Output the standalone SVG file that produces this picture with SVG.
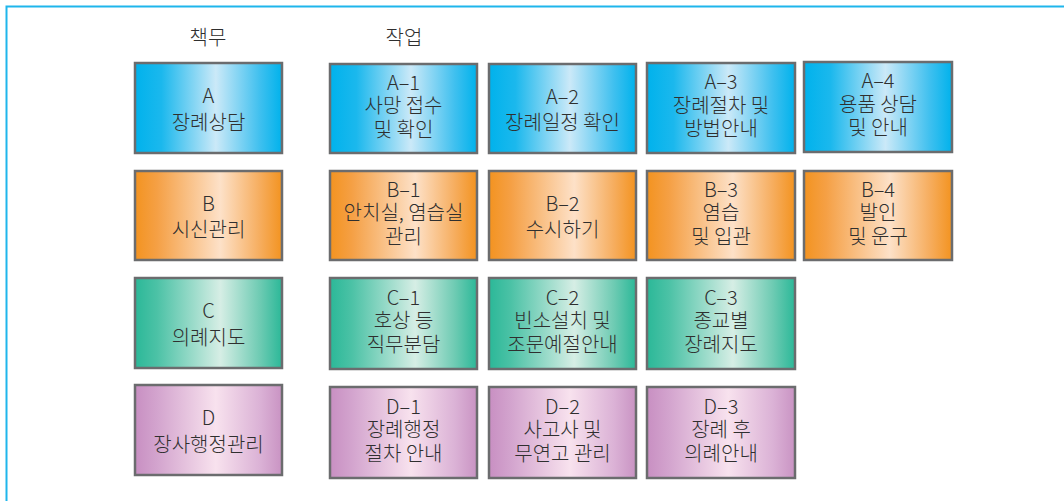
<svg xmlns="http://www.w3.org/2000/svg" width="1064" height="501" viewBox="0 0 1064 501">
<defs>
<linearGradient id="gA" x1="0" y1="0" x2="1" y2="0">
<stop offset="0" stop-color="#00b2ec"/><stop offset="0.18" stop-color="#1bb8ed"/><stop offset="0.55" stop-color="#cbe9f8"/><stop offset="0.85" stop-color="#3fc0ef"/><stop offset="1" stop-color="#00b2ec"/>
</linearGradient>
<linearGradient id="gB" x1="0" y1="0" x2="1" y2="0">
<stop offset="0" stop-color="#f39320"/><stop offset="0.15" stop-color="#f5a045"/><stop offset="0.58" stop-color="#fde1c8"/><stop offset="0.85" stop-color="#f6ad5e"/><stop offset="1" stop-color="#f39320"/>
</linearGradient>
<linearGradient id="gC" x1="0" y1="0" x2="1" y2="0">
<stop offset="0" stop-color="#2bb898"/><stop offset="0.15" stop-color="#4cc2a6"/><stop offset="0.58" stop-color="#d6eee5"/><stop offset="0.85" stop-color="#6ecbb3"/><stop offset="1" stop-color="#2bb898"/>
</linearGradient>
<linearGradient id="gD" x1="0" y1="0" x2="1" y2="0">
<stop offset="0" stop-color="#c88fc2"/><stop offset="0.15" stop-color="#d3a4ce"/><stop offset="0.55" stop-color="#f8e2ee"/><stop offset="0.85" stop-color="#dbb2d6"/><stop offset="1" stop-color="#c993c3"/>
</linearGradient>
</defs>
<style>
.bx{stroke:#6b6c6e;stroke-width:2.5}
.a{fill:url(#gA)}.b{fill:url(#gB)}.c{fill:url(#gC)}.d{fill:url(#gD)}
text{font-family:"Noto Sans CJK KR","Liberation Sans",sans-serif;font-size:20px;fill:#2f2f2f;text-anchor:middle;font-weight:300}
</style>
<rect width="1064" height="501" fill="#fff"/>
<path d="M6.5 501 V6.5 H1064" fill="none" stroke="#1fb6ec" stroke-width="2"/>
<g id="headers">
<text x="208" y="45">책무</text>
<text x="404" y="45">작업</text>
</g>
<g id="A"><rect class="bx a" x="135" y="63" width="147" height="90"/><text x="208.5" y="103">A</text><text x="208.5" y="129.5">장례상담</text></g>
<g id="A1"><rect class="bx a" x="330" y="64" width="147" height="89"/><text x="403.5" y="89.5">A–1</text><text x="403.5" y="113">사망 접수</text><text x="403.5" y="136.5">및 확인</text></g>
<g id="A2"><rect class="bx a" x="489" y="64" width="147" height="89"/><text x="562.5" y="103.5">A–2</text><text x="562.5" y="130">장례일정 확인</text></g>
<g id="A3"><rect class="bx a" x="647" y="63" width="148" height="90"/><text x="721" y="89">A–3</text><text x="721" y="112.5">장례절차 및</text><text x="721" y="136">방법안내</text></g>
<g id="A4"><rect class="bx a" x="804" y="62" width="148" height="90"/><text x="878" y="88">A–4</text><text x="878" y="111.5">용품 상담</text><text x="878" y="135">및 안내</text></g>

<g id="B"><rect class="bx b" x="135" y="171" width="147" height="89"/><text x="208.5" y="210.5">B</text><text x="208.5" y="237">시신관리</text></g>
<g id="B1"><rect class="bx b" x="330" y="171" width="147" height="89"/><text x="403.5" y="196.5">B–1</text><text x="403.5" y="220">안치실, 염습실</text><text x="403.5" y="243.5">관리</text></g>
<g id="B2"><rect class="bx b" x="489" y="171" width="147" height="89"/><text x="562.5" y="210.5">B–2</text><text x="562.5" y="237">수시하기</text></g>
<g id="B3"><rect class="bx b" x="647" y="171" width="148" height="89"/><text x="721" y="196.5">B–3</text><text x="721" y="220">염습</text><text x="721" y="243.5">및 입관</text></g>
<g id="B4"><rect class="bx b" x="804" y="171" width="148" height="89"/><text x="878" y="196.5">B–4</text><text x="878" y="220">발인</text><text x="878" y="243.5">및 운구</text></g>

<g id="C"><rect class="bx c" x="135" y="278" width="147" height="90"/><text x="208.5" y="318">C</text><text x="208.5" y="344.5">의례지도</text></g>
<g id="C1"><rect class="bx c" x="330" y="278" width="147" height="91"/><text x="403.5" y="304.5">C–1</text><text x="403.5" y="328">호상 등</text><text x="403.5" y="351.5">직무분담</text></g>
<g id="C2"><rect class="bx c" x="489" y="278" width="147" height="91"/><text x="562.5" y="304.5">C–2</text><text x="562.5" y="328">빈소설치 및</text><text x="562.5" y="351.5">조문예절안내</text></g>
<g id="C3"><rect class="bx c" x="647" y="278" width="148" height="91"/><text x="721" y="304.5">C–3</text><text x="721" y="328">종교별</text><text x="721" y="351.5">장례지도</text></g>

<g id="D"><rect class="bx d" x="135" y="385" width="147" height="90"/><text x="208.5" y="425">D</text><text x="208.5" y="451.5">장사행정관리</text></g>
<g id="D1"><rect class="bx d" x="330" y="387" width="147" height="91"/><text x="403.5" y="413.5">D–1</text><text x="403.5" y="437">장례행정</text><text x="403.5" y="460.5">절차 안내</text></g>
<g id="D2"><rect class="bx d" x="489" y="387" width="147" height="91"/><text x="562.5" y="413.5">D–2</text><text x="562.5" y="437">사고사 및</text><text x="562.5" y="460.5">무연고 관리</text></g>
<g id="D3"><rect class="bx d" x="647" y="387" width="148" height="91"/><text x="721" y="413.5">D–3</text><text x="721" y="437">장례 후</text><text x="721" y="460.5">의례안내</text></g>
<g id="connectors"/>
</svg>
